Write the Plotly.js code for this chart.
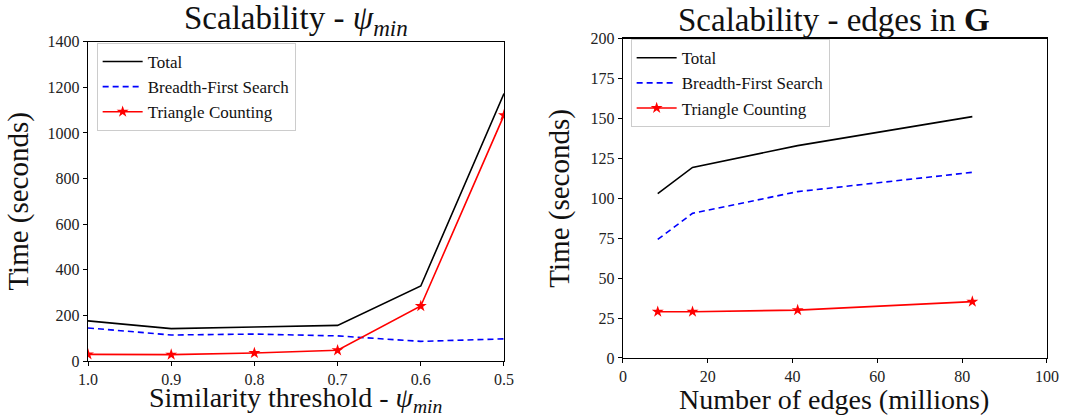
<!DOCTYPE html>
<html><head><meta charset="utf-8">
<script src="https://cdn.plot.ly/plotly-3.0.1.min.js"></script>
<style>html,body{margin:0;padding:0;background:#fff;}#chart{width:1068px;height:417px;}</style>
</head><body><div id="chart"></div>
<script>
// Left panel: similarity threshold
const psiMin = [1.0, 0.9, 0.8, 0.7, 0.6, 0.5];
const totalPsi = [176, 142, 149, 156, 329, 1173];
const bfsPsi = [145, 114, 118, 110, 86, 97];
const tcPsi = [29, 28, 35, 47, 241, 1078];
// Right panel: number of edges
const edgesM = [8.2, 16.4, 41.2, 82.4];
const totalEdges = [103, 119.4, 133, 151.2];
const bfsEdges = [74.3, 90.6, 104.2, 116.3];
const tcEdges = [29, 29, 30, 35.3];

const names = ['Total', 'Breadth-First Search', 'Triangle Counting'];
const FONT = 'Liberation Serif, DejaVu Serif, serif';

function series(x, ys, xa, ya) {
  return [
    {x: x, y: ys[0], name: names[0], xaxis: xa, yaxis: ya, mode: 'lines', line: {color: '#000', width: 1.6}},
    {x: x, y: ys[1], name: names[1], xaxis: xa, yaxis: ya, mode: 'lines', line: {color: '#0000ff', width: 1.6, dash: '6px,4px'}},
    {x: x, y: ys[2], name: names[2], xaxis: xa, yaxis: ya, mode: 'lines+markers', line: {color: '#ff0000', width: 1.6}, marker: {symbol: 'star', size: 9, color: '#ff0000'}}
  ];
}

const t1 = series(psiMin, [totalPsi, bfsPsi, tcPsi], 'x', 'y');
const t2 = series(edgesM, [totalEdges, bfsEdges, tcEdges], 'x2', 'y2');
t2.forEach(t => t.legend = 'legend2');

const axBase = {
  showgrid: false, zeroline: false, showline: true, linecolor: '#000', linewidth: 1.2,
  mirror: true, ticks: 'outside', ticklen: 4, tickwidth: 1, tickcolor: '#000',
  tickfont: {family: FONT, size: 16, color: '#222'}
};
const titleFont = {family: FONT, size: 29, color: '#111'};
const xTitleFont = {family: FONT, size: 28, color: '#111'};

const legBase = {
  bgcolor: 'rgba(255,255,255,0.8)', bordercolor: '#cccccc', borderwidth: 1,
  font: {family: FONT, size: 17, color: '#111'}, xanchor: 'left', yanchor: 'top',
  tracegroupgap: 0, itemwidth: 40
};

const layout = {
  width: 1068, height: 417,
  margin: {l: 0, r: 0, t: 0, b: 0},
  paper_bgcolor: '#fff', plot_bgcolor: '#fff',
  showlegend: true,
  xaxis: Object.assign({}, axBase, {
    domain: [0.0824, 0.4719], anchor: 'y', range: [1.0, 0.5], autorange: false,
    tickvals: psiMin, tickformat: '.1f'
  }),
  yaxis: Object.assign({}, axBase, {
    domain: [0.1343, 0.9], anchor: 'x', range: [0, 1400], dtick: 200,
    title: {text: 'Time (seconds)', font: titleFont, standoff: 10}
  }),
  xaxis2: Object.assign({}, axBase, {
    domain: [0.5833, 0.9803], anchor: 'y2', range: [0, 100], dtick: 20
  }),
  yaxis2: Object.assign({}, axBase, {
    domain: [0.1415, 0.9072], anchor: 'x2', range: [0, 200], dtick: 25,
    title: {text: 'Time (seconds)', font: titleFont, standoff: 12}
  }),
  legend: Object.assign({}, legBase, {x: 0.0905, y: 0.897}),
  legend2: Object.assign({}, legBase, {x: 0.5905, y: 0.906}),
  annotations: [
    {text: 'Scalability - <i>ψ</i><sub><i>min</i></sub>', x: 0.277, y: 0.952, xref: 'paper', yref: 'paper', xanchor: 'center', yanchor: 'middle', showarrow: false, font: {family: FONT, size: 33, color: '#111'}},
    {text: 'Scalability - edges in <b>G</b>', x: 0.781, y: 0.952, xref: 'paper', yref: 'paper', xanchor: 'center', yanchor: 'middle', showarrow: false, font: {family: FONT, size: 33, color: '#111'}},
    {text: 'Similarity threshold - <i>ψ</i><sub><i>min</i></sub>', x: 0.277, y: 0.0, yshift: -2, xref: 'paper', yref: 'paper', xanchor: 'center', yanchor: 'bottom', showarrow: false, font: xTitleFont},
    {text: 'Number of edges (millions)', x: 0.781, y: 0.0, xref: 'paper', yref: 'paper', xanchor: 'center', yanchor: 'bottom', showarrow: false, font: xTitleFont}
  ]
};

Plotly.newPlot('chart', t1.concat(t2), layout, {displayModeBar: false, staticPlot: true});
</script></body></html>
